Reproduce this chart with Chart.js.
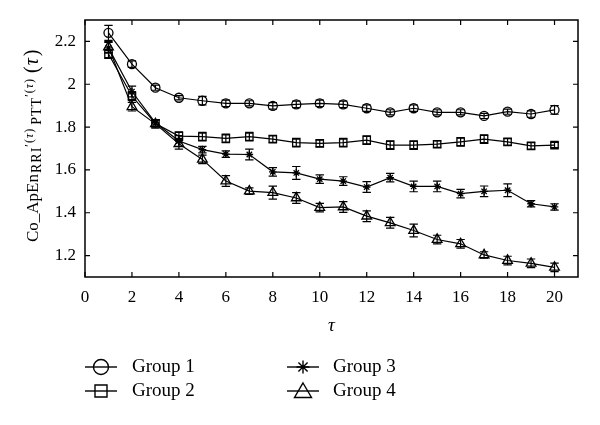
<!DOCTYPE html>
<html>
<head>
<meta charset="utf-8">
<script src="https://cdn.jsdelivr.net/npm/chart.js@4/dist/chart.umd.min.js"></script>
<style>
html,body{margin:0;padding:0;background:#fff;}
#wrap{width:600px;height:425px;position:relative;}
</style>
</head>
<body>
<div id="wrap"><canvas id="c"></canvas></div>
<script>
const tau = [1,2,3,4,5,6,7,8,9,10,11,12,13,14,15,16,17,18,19,20];
const group1 = [2.24,2.094,1.984,1.937,1.923,1.911,1.911,1.899,1.906,1.911,1.906,1.888,1.869,1.888,1.869,1.869,1.852,1.872,1.861,1.880];
const group2 = [2.141,1.945,1.817,1.758,1.755,1.747,1.755,1.744,1.727,1.724,1.727,1.739,1.716,1.716,1.720,1.731,1.744,1.731,1.712,1.716];
const group3 = [2.17,1.966,1.82,1.735,1.695,1.674,1.672,1.591,1.586,1.557,1.548,1.52,1.564,1.523,1.523,1.489,1.50,1.505,1.442,1.427];
const group4 = [2.174,1.895,1.815,1.722,1.649,1.548,1.501,1.494,1.469,1.424,1.427,1.384,1.353,1.317,1.275,1.255,1.203,1.177,1.164,1.145];
const err1 = [0.035,0.015,0.012,0.01,0.02,0.015,0.012,0.015,0.015,0.015,0.015,0.015,0.012,0.015,0.012,0.012,0.012,0.012,0.015,0.02];
const err2 = [0.02,0.02,0.015,0.02,0.02,0.02,0.02,0.015,0.02,0.015,0.02,0.02,0.02,0.02,0.015,0.02,0.02,0.015,0.015,0.012];
const err3 = [0.025,0.025,0.015,0.025,0.015,0.015,0.025,0.02,0.03,0.02,0.02,0.025,0.02,0.025,0.025,0.02,0.025,0.03,0.015,0.015];
const err4 = [0.025,0.02,0.02,0.025,0.02,0.025,0.015,0.03,0.025,0.02,0.025,0.025,0.025,0.03,0.02,0.02,0.015,0.02,0.02,0.02];
const seriesNames = ['Group 1','Group 2','Group 3','Group 4'];
const xTicks = [0,2,4,6,8,10,12,14,16,18,20];
const yTicks = [1.2,1.4,1.6,1.8,2.0,2.2];

const FONT = '"Liberation Serif", "DejaVu Serif", serif';
const series = [group1, group2, group3, group4];
const errs = [err1, err2, err3, err4];
const styles = [
  {pointStyle:'circle', pointRadius:4.5},
  {pointStyle:'rect', pointRadius:5.2},
  {pointStyle:'star', pointRadius:3.8},
  {pointStyle:'triangle', pointRadius:5.6}
];

const datasets = series.map((vals, i) => ({
  label: seriesNames[i],
  data: vals.map((v, j) => ({x: tau[j], y: v})),
  borderColor: '#000',
  borderWidth: 1.2,
  backgroundColor: 'rgba(0,0,0,0)',
  pointBackgroundColor: 'rgba(0,0,0,0)',
  pointBorderColor: '#000',
  pointBorderWidth: 1.3,
  pointStyle: styles[i].pointStyle,
  pointRadius: styles[i].pointRadius,
  errors: errs[i],
  tension: 0
}));

const errorBars = {
  id: 'errorBars',
  afterDatasetsDraw(chart) {
    const ctx = chart.ctx, xs = chart.scales.x, ys = chart.scales.y;
    ctx.save();
    ctx.strokeStyle = '#000';
    ctx.lineWidth = 1.2;
    chart.data.datasets.forEach(ds => {
      ds.data.forEach((p, j) => {
        const e = ds.errors[j];
        const px = xs.getPixelForValue(p.x);
        const y1 = ys.getPixelForValue(p.y + e);
        const y2 = ys.getPixelForValue(p.y - e);
        const cw = 4.2;
        ctx.beginPath();
        ctx.moveTo(px, y1); ctx.lineTo(px, y2);
        ctx.moveTo(px - cw, y1); ctx.lineTo(px + cw, y1);
        ctx.moveTo(px - cw, y2); ctx.lineTo(px + cw, y2);
        ctx.stroke();
      });
    });
    ctx.restore();
  }
};

function drawSymbol(ctx, style, x, y) {
  ctx.beginPath();
  if (style === 'circle') {
    ctx.arc(x, y, 7.5, 0, Math.PI * 2);
  } else if (style === 'rect') {
    ctx.rect(x - 6, y - 6, 12, 12);
  } else if (style === 'star') {
    const r = 6.5;
    for (let k = 0; k < 4; k++) {
      const a = k * Math.PI / 4;
      ctx.moveTo(x - r * Math.cos(a), y - r * Math.sin(a));
      ctx.lineTo(x + r * Math.cos(a), y + r * Math.sin(a));
    }
  } else if (style === 'triangle') {
    ctx.moveTo(x, y - 8);
    ctx.lineTo(x + 8.5, y + 6.5);
    ctx.lineTo(x - 8.5, y + 6.5);
    ctx.closePath();
  }
  ctx.stroke();
}

const frame = {
  id: 'frame',
  afterDraw(chart) {
    const ctx = chart.ctx, a = chart.chartArea, xs = chart.scales.x, ys = chart.scales.y;
    ctx.save();
    ctx.strokeStyle = '#000';
    ctx.lineWidth = 1.5;
    ctx.strokeRect(a.left, a.top, a.right - a.left, a.bottom - a.top);
    ctx.lineWidth = 1.2;
    const tl = 5;
    ctx.beginPath();
    xTicks.forEach(v => {
      const px = xs.getPixelForValue(v);
      ctx.moveTo(px, a.bottom); ctx.lineTo(px, a.bottom - tl);
      ctx.moveTo(px, a.top); ctx.lineTo(px, a.top + tl);
    });
    yTicks.forEach(v => {
      const py = ys.getPixelForValue(v);
      ctx.moveTo(a.left, py); ctx.lineTo(a.left + tl, py);
      ctx.moveTo(a.right, py); ctx.lineTo(a.right - tl, py);
    });
    ctx.stroke();

    // x axis title
    ctx.fillStyle = '#000';
    ctx.font = 'italic 19px ' + FONT;
    ctx.textAlign = 'center';
    ctx.textBaseline = 'middle';
    ctx.fillText('τ', (a.left + a.right) / 2, 326);

    // y axis title with sub/superscripts
    ctx.save();
    ctx.translate(38, 242);
    ctx.rotate(-Math.PI / 2);
    ctx.textAlign = 'left';
    ctx.textBaseline = 'alphabetic';
    const segs = [
      {t:'Co_ApEn', f:'17px', dy:0, gap:0, ls:0},
      {t:'RRI', f:'14px', dy:3, gap:1, ls:1},
      {t:'′(', f:'12px', dy:-5, gap:0, ls:1},
      {t:'τ', f:'italic 12px', dy:-5, gap:0, ls:1},
      {t:')', f:'12px', dy:-5, gap:0, ls:1},
      {t:'PTT', f:'14px', dy:3, gap:3, ls:1},
      {t:'′(', f:'12px', dy:-5, gap:0, ls:1},
      {t:'τ', f:'italic 12px', dy:-5, gap:0, ls:1},
      {t:')', f:'12px', dy:-5, gap:0, ls:1},
      {t:'(', f:'20px', dy:0, gap:5, ls:0},
      {t:'τ', f:'italic 20px', dy:0, gap:1, ls:0},
      {t:')', f:'20px', dy:0, gap:2, ls:0}
    ];
    let cx = 0;
    segs.forEach(s => {
      cx += s.gap;
      ctx.font = s.f + ' ' + FONT;
      ctx.letterSpacing = s.ls + 'px';
      ctx.fillText(s.t, cx, s.dy);
      cx += ctx.measureText(s.t).width;
    });
    ctx.letterSpacing = '0px';
    ctx.restore();

    // legend
    const pos = [[101, 367, 132], [101, 391, 132], [303, 367, 333], [303, 391, 333]];
    ctx.font = '19px ' + FONT;
    ctx.textAlign = 'left';
    ctx.textBaseline = 'middle';
    chart.data.datasets.forEach((ds, i) => {
      const [sx, sy, tx] = pos[i];
      ctx.lineWidth = 1.4;
      ctx.beginPath();
      ctx.moveTo(sx - 16, sy); ctx.lineTo(sx + 16, sy);
      ctx.stroke();
      drawSymbol(ctx, ds.pointStyle, sx, sy);
      ctx.fillText(ds.label, tx, sy);
    });
    ctx.restore();
  }
};

new Chart(document.getElementById('c'), {
  type: 'line',
  data: { datasets },
  options: {
    responsive: true,
    maintainAspectRatio: false,
    animation: false,
    layout: { padding: { left: 0, right: 22, top: 20, bottom: 108 } },
    plugins: { legend: { display: false }, tooltip: { enabled: false } },
    scales: {
      x: {
        type: 'linear', min: 0, max: 21,
        afterBuildTicks: s => { s.ticks = xTicks.map(v => ({ value: v })); },
        afterFit: s => { s.height = 40; },
        grid: { display: false, drawTicks: false },
        border: { display: false },
        ticks: { color: '#000', font: { family: FONT, size: 17 }, padding: 10, maxRotation: 0, autoSkip: false }
      },
      y: {
        type: 'linear', min: 1.1, max: 2.3,
        afterBuildTicks: s => { s.ticks = yTicks.map(v => ({ value: v })); },
        afterFit: s => { s.width = 85; },
        grid: { display: false, drawTicks: false },
        border: { display: false },
        ticks: { color: '#000', font: { family: FONT, size: 17 }, padding: 9,
          callback: v => String(+(+v).toFixed(1)) }
      }
    }
  },
  plugins: [errorBars, frame]
});
</script>
</body>
</html>
